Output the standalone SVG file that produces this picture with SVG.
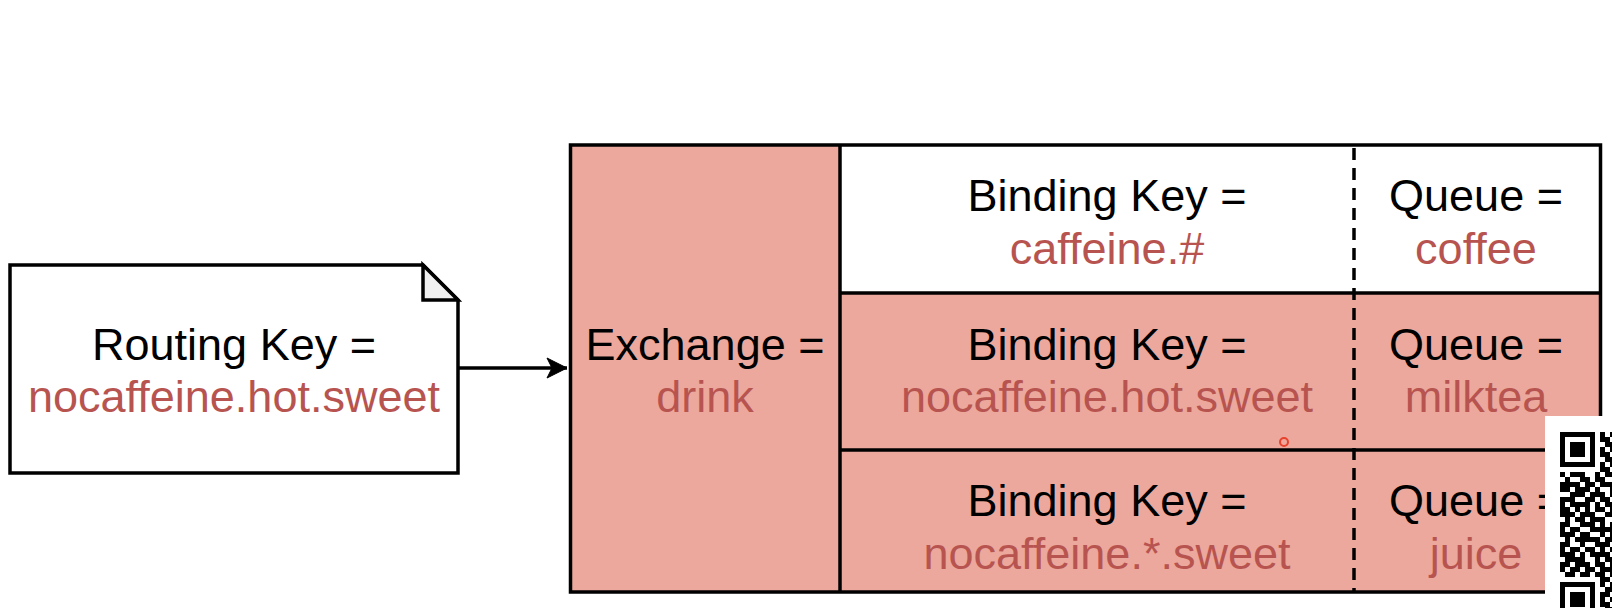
<svg xmlns="http://www.w3.org/2000/svg" width="1612" height="608" viewBox="0 0 1612 608">
<style>
.t{font-family:"Liberation Sans",Arial,Helvetica,sans-serif;font-size:45px;text-anchor:middle;fill:#000}
.r{fill:#b85450}
.ln{stroke:#000;stroke-width:3.5;fill:none}
.pk{fill:#eca89c}
</style>
<defs>
<marker id="arr" markerWidth="24" markerHeight="24" refX="21" refY="11" orient="auto" markerUnits="userSpaceOnUse">
<path d="M21 11 L1 1 L6 11 L1 21 Z" fill="#000" stroke="#000" stroke-width="1"/>
</marker>
</defs>
<rect width="1612" height="608" fill="#fff"/>
<g id="routing-key">
<path d="M10 265 H423 L458 300 V473 H10 Z" fill="#fff" class="ln"/>
<path d="M423 265 V300 H458 Z" fill="#f0f0f0" stroke="#000" stroke-width="3.5" stroke-linejoin="miter"/>
<text class="t" x="234" y="360">Routing Key =</text>
<text class="t r" x="234" y="412">nocaffeine.hot.sweet</text>
</g>
<g id="connectors">
<line x1="458" y1="368" x2="567" y2="368" class="ln" marker-end="url(#arr)"/>
</g>
<g id="exchange">
<rect class="pk" x="570.5" y="145" width="269.5" height="447"/>
<text class="t" x="705" y="360">Exchange =</text>
<text class="t r" x="705" y="412">drink</text>
</g>
<g id="binding-coffee">
<rect fill="#fff" x="840" y="145" width="760" height="148"/>
<text class="t" x="1107" y="211">Binding Key =</text>
<text class="t r" x="1107" y="264">caffeine.#</text>
<text class="t" x="1476" y="211">Queue =</text>
<text class="t r" x="1476" y="264">coffee</text>
</g>
<g id="binding-milktea">
<rect class="pk" x="840" y="293" width="760" height="157"/>
<text class="t" x="1107" y="360">Binding Key =</text>
<text class="t r" x="1107" y="412">nocaffeine.hot.sweet</text>
<text class="t" x="1476" y="360">Queue =</text>
<text class="t r" x="1476" y="412">milktea</text>
</g>
<g id="binding-juice">
<rect class="pk" x="840" y="450" width="760" height="142"/>
<text class="t" x="1107" y="516">Binding Key =</text>
<text class="t r" x="1107" y="569">nocaffeine.*.sweet</text>
<text class="t" x="1476" y="516">Queue =</text>
<text class="t r" x="1476" y="569">juice</text>
</g>
<g id="grid-lines">
<rect class="ln" x="570.5" y="145" width="1030" height="447"/>
<line class="ln" x1="840" y1="145" x2="840" y2="592"/>
<line class="ln" x1="840" y1="293" x2="1600" y2="293"/>
<line class="ln" x1="840" y1="450" x2="1600" y2="450"/>
<line class="ln" x1="1354" y1="148" x2="1354" y2="592" stroke-dasharray="12 8"/>
</g>
<circle cx="1284" cy="442" r="4" fill="none" stroke="#e8412c" stroke-width="2"/>
<g id="qr">
<rect x="1545" y="416" width="67" height="192" fill="#fff"/>
<rect x="1562.5" y="434.5" width="30" height="30" fill="none" stroke="#000" stroke-width="5"/>
<rect x="1570" y="442" width="15" height="15" fill="#000"/>
<rect x="1562.5" y="584.5" width="30" height="30" fill="none" stroke="#000" stroke-width="5"/>
<rect x="1570" y="592" width="15" height="15" fill="#000"/>
<path fill="#000" d="M1600 432h5v5h-5z M1610 432h5v5h-5z M1600 437h10v5h-10z M1605 442h10v5h-10z M1600 447h5v5h-5z M1610 447h5v5h-5z M1600 452h10v5h-10z M1605 457h10v5h-10z M1600 462h5v5h-5z M1610 462h5v5h-5z M1600 467h10v5h-10z
M1560 472h5v5h-5z M1570 472h15v5h-15z M1595 472h5v5h-5z M1605 472h10v5h-10z
M1565 477h5v5h-5z M1580 477h10v5h-10z M1595 477h10v5h-10z
M1560 482h20v5h-20z M1585 482h10v5h-10z M1600 482h15v5h-15z
M1560 487h10v5h-10z M1575 487h15v5h-15z M1595 487h5v5h-5z M1610 487h5v5h-5z
M1570 492h15v5h-15z M1590 492h15v5h-15z M1610 492h5v5h-5z
M1560 497h15v5h-15z M1585 497h10v5h-10z M1600 497h10v5h-10z
M1560 502h5v5h-5z M1570 502h20v5h-20z M1595 502h5v5h-5z M1605 502h10v5h-10z
M1560 507h10v5h-10z M1575 507h5v5h-5z M1585 507h5v5h-5z M1595 507h10v5h-10z M1610 507h5v5h-5z
M1560 512h15v5h-15z M1580 512h15v5h-15z M1605 512h10v5h-10z
M1565 517h5v5h-5z M1575 517h10v5h-10z M1590 517h15v5h-15z
M1560 522h10v5h-10z M1580 522h15v5h-15z M1600 522h5v5h-5z M1610 522h5v5h-5z
M1560 527h5v5h-5z M1570 527h10v5h-10z M1590 527h25v5h-25z
M1560 532h15v5h-15z M1580 532h10v5h-10z M1600 532h5v5h-5z M1610 532h5v5h-5z
M1565 537h5v5h-5z M1575 537h25v5h-25z M1605 537h10v5h-10z
M1560 542h10v5h-10z M1580 542h5v5h-5z M1595 542h15v5h-15z
M1560 547h5v5h-5z M1570 547h10v5h-10z M1585 547h10v5h-10z M1600 547h5v5h-5z M1610 547h5v5h-5z
M1560 552h15v5h-15z M1580 552h5v5h-5z M1590 552h20v5h-20z
M1565 557h20v5h-20z M1595 557h5v5h-5z M1605 557h10v5h-10z
M1560 562h10v5h-10z M1575 562h15v5h-15z M1595 562h10v5h-10z M1610 562h5v5h-5z
M1560 567h5v5h-5z M1570 567h10v5h-10z M1585 567h10v5h-10z M1600 567h15v5h-15z
M1565 572h10v5h-10z M1580 572h10v5h-10z M1595 572h10v5h-10z M1610 572h5v5h-5z
M1600 577h10v5h-10z M1600 582h5v5h-5z M1610 582h5v5h-5z M1605 587h10v5h-10z M1600 592h10v5h-10z M1600 597h5v5h-5z M1610 597h5v5h-5z M1600 602h10v5h-10z M1605 607h10v1h-10z"/>
</g>
</svg>
